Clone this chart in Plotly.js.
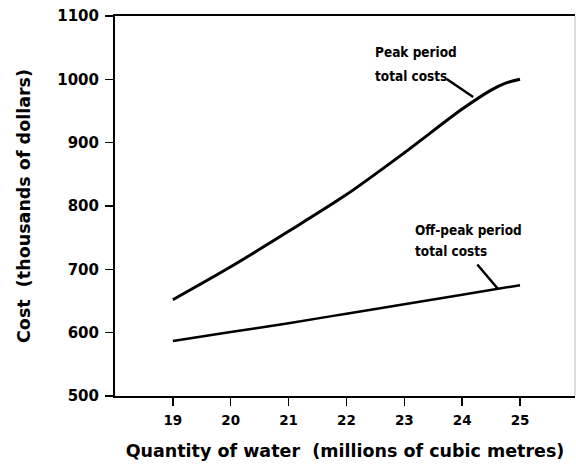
<!DOCTYPE html>
<html>
<head>
<meta charset="utf-8">
<script src="https://cdn.plot.ly/plotly-3.0.1.min.js"></script>
<style>html,body{margin:0;padding:0;background:#fff;}#chart{width:576px;height:469px;}</style>
</head>
<body>
<div id="chart"></div>
<script>
// Data
const quantity = [19, 20, 21, 22, 23, 24, 24.5, 24.75, 25];
const peakCosts = [652, 704, 760, 818, 884, 953, 983, 994, 1000];
const offPeakQuantity = [19, 20, 21, 22, 23, 24, 25];
const offPeakCosts = [587, 601, 615, 630, 645, 660, 675];
const xTicks = [19, 20, 21, 22, 23, 24, 25];
const yTicks = [500, 600, 700, 800, 900, 1000, 1100];
const peakLabelLines = ["Peak period", "total costs"];
const offPeakLabelLines = ["Off-peak period", "total costs"];

const labelFont = {family: "DejaVu Sans Condensed, Liberation Sans Narrow, sans-serif", size: 13.5, color: "#000", weight: "bold"};
const xTickFont = {family: "DejaVu Sans, sans-serif", size: 13.5, color: "#000", weight: "bold"};
const yTickFont = {family: "DejaVu Sans, sans-serif", size: 15, color: "#000", weight: "bold"};
const titleFont = {family: "DejaVu Sans, sans-serif", size: 17.5, color: "#000", weight: "bold"};

const traces = [
  {x: quantity, y: peakCosts, mode: "lines", line: {color: "#000", width: 3, shape: "spline", smoothing: 0.8}, hoverinfo: "skip"},
  {x: offPeakQuantity, y: offPeakCosts, mode: "lines", line: {color: "#000", width: 2.5, shape: "spline"}, hoverinfo: "skip"}
];

const PLOT_L = 115, PLOT_T = 16, PLOT_W = 460, PLOT_H = 380;
function textAnn(line, px, py) {
  return {xref: "paper", yref: "paper", x: (px - PLOT_L) / PLOT_W, y: 1 - (py - PLOT_T) / PLOT_H,
    xanchor: "left", yanchor: "middle", text: line, showarrow: false, align: "left", font: labelFont};
}

const layout = {
  width: 576, height: 469,
  margin: {l: PLOT_L, r: 1, t: PLOT_T, b: 73},
  paper_bgcolor: "#fff", plot_bgcolor: "#fff",
  showlegend: false,
  xaxis: {
    range: [18, 25.95], tickvals: xTicks, ticktext: xTicks.map(String),
    showgrid: false, zeroline: false,
    showline: true, linecolor: "#000", linewidth: 2, mirror: true,
    ticks: "outside", ticklen: 8, tickwidth: 1.5, tickcolor: "#000",
    ticklabelstandoff: 3,
    tickfont: xTickFont,
    title: {text: "Quantity of water  (millions of cubic metres)", font: titleFont, standoff: 18}
  },
  yaxis: {
    range: [500, 1100], tickvals: yTicks, ticktext: yTicks.map(String),
    showgrid: false, zeroline: false,
    showline: true, linecolor: "#000", linewidth: 2,
    ticks: "outside", ticklen: 8, tickwidth: 1.5, tickcolor: "#000",
    ticklabelstandoff: 3,
    tickfont: yTickFont,
    title: {text: "Cost  (thousands of dollars)", font: titleFont, standoff: 22}
  },
  annotations: [
    {x: 24.19, y: 972, xref: "x", yref: "y", ax: -28, ay: -19,
     text: "", showarrow: true, arrowhead: 0, arrowwidth: 2.5, arrowcolor: "#000"},
    textAnn(peakLabelLines[0], 373, 52),
    textAnn(peakLabelLines[1], 373, 76),
    {x: 24.62, y: 669, xref: "x", yref: "y", ax: -22, ay: -26,
     text: "", showarrow: true, arrowhead: 0, arrowwidth: 2.5, arrowcolor: "#000"},
    textAnn(offPeakLabelLines[0], 413, 230),
    textAnn(offPeakLabelLines[1], 413, 251)
  ],
  shapes: [
    {type: "line", xref: "paper", yref: "paper", x0: 1, x1: 1, y0: 0, y1: 1, line: {color: "#bbb", width: 1}}
  ]
};

Plotly.newPlot("chart", traces, layout, {displayModeBar: false, staticPlot: true});
</script>
</body>
</html>
